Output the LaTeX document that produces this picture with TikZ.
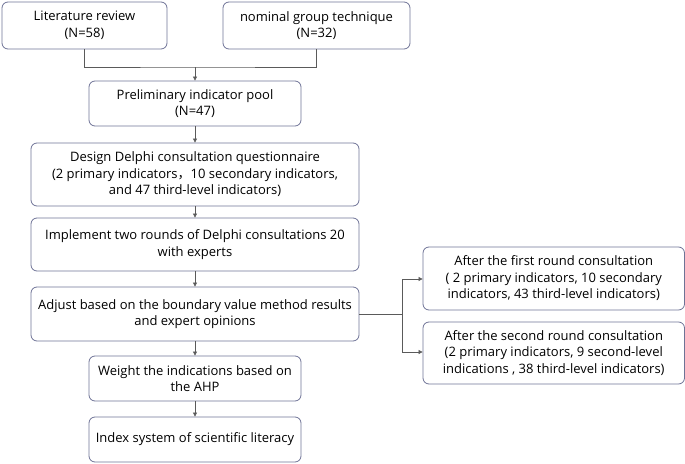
\documentclass[tikz,border=0pt]{standalone}
\usepackage{fontspec}
\setmainfont{Open Sans}
\newfontfamily\cjk{Noto Sans CJK SC}
\usetikzlibrary{arrows.meta}
\definecolor{boxc}{HTML}{6E7396}
\definecolor{linec}{HTML}{5A5A5A}
\tikzset{
  box/.style={draw=boxc, line width=0.8pt, rounded corners=6pt, align=center, inner sep=0pt,
    font=\fontsize{13pt}{16.5pt}\selectfont, text=black},
  conn/.style={draw=linec, line width=0.6pt},
  arr/.style={conn, -{Triangle[length=4pt,width=4pt]}},
}
\newcommand{\bx}[6]{% name, x1, y1, x2, y2, text
  \node[box, minimum width=#4pt-#2pt, minimum height=#5pt-#3pt] (#1) at ({(#2+#4)/2*1pt}, {-(#3+#5)/2*1pt}) {#6};}
\begin{document}
\begin{tikzpicture}[x=1pt,y=1pt]
\useasboundingbox (0,0) rectangle (685,-463);
\bx{lit}{2}{2}{167}{49}{Literature review\\(N=58)}
\bx{ngt}{223}{2}{410}{49}{nominal group technique\\(N=32)}
\bx{pool}{89}{81}{301}{126}{Preliminary indicator pool\\(N=47)}
\bx{design}{31}{143}{359}{206}{Design Delphi consultation questionnaire\\(2 primary indicators{\cjk ，}10 secondary indicators,\\and 47 third-level indicators)}
\bx{impl}{31}{218}{359}{271}{Implement two rounds of Delphi consultations 20\\with experts}
\bx{adj}{31}{287}{359}{341}{Adjust based on the boundary value method results\\and expert opinions}
\bx{wt}{89}{356}{301}{401}{Weight the indications based on\\the AHP}
\bx{idx}{89}{417}{301}{462}{Index system of scientific literacy}
\bx{r1}{423}{247}{684.5}{310}{After the first round consultation\\( 2 primary indicators,  10 secondary\\indicators, 43  third-level indicators)}
\bx{r2}{423}{322}{684.5}{384}{After the second round consultation\\(2 primary indicators,  9 second-level\\indications , 38 third-level indicators)}
\coordinate (j) at (195,-67);
\coordinate (s) at (402,-314);
\draw[conn] (lit.south) |- (j) -| (ngt.south);
\draw[arr] (j) -- (pool.north);
\draw[arr] (pool) -- (design);
\draw[arr] (design) -- (impl);
\draw[arr] (impl) -- (adj);
\draw[arr] (adj) -- (wt);
\draw[arr] (wt) -- (idx);
\draw[conn] (adj.east |- s) -- (s);
\draw[arr] (s) |- (r1.west |- 0,-279);
\draw[arr] (s) |- (r2.west |- 0,-352);
\end{tikzpicture}
\end{document}
